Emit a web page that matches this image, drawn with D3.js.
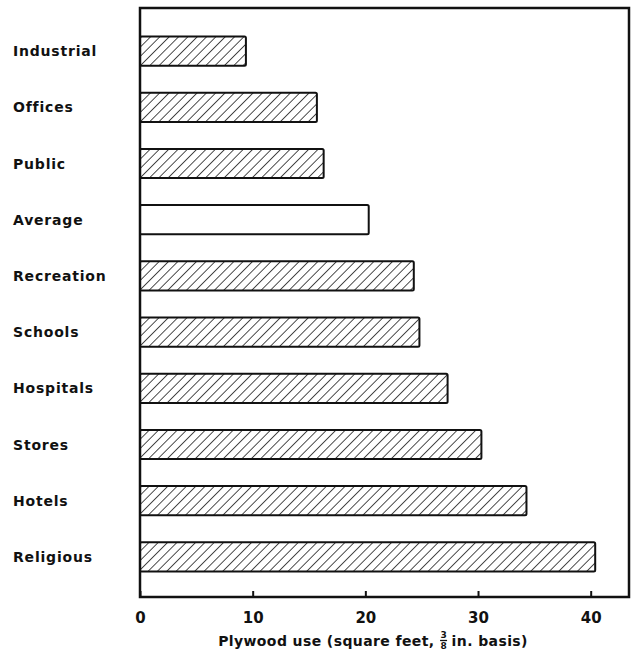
<!DOCTYPE html>
<html>
<head>
<meta charset="utf-8">
<script src="https://cdn.jsdelivr.net/npm/d3@7"></script>
<style>
  body { margin: 0; background: #fff; }
  text { font-family: "DejaVu Sans", sans-serif; font-weight: bold; fill: #111; white-space: pre; }
</style>
</head>
<body>
<svg width="633" height="659"></svg>
<script>
// data
var categories = ["Industrial", "Offices", "Public", "Average", "Recreation",
                  "Schools", "Hospitals", "Stores", "Hotels", "Religious"];
var plywoodUse = [9.4, 15.7, 16.3, 20.3, 24.3, 24.8, 27.3, 30.3, 34.3, 40.4];
var hatched = [true, true, true, false, true, true, true, true, true, true];
var xTicks = [0, 10, 20, 30, 40];

var svg = d3.select("svg");

var plotLeft = 140, plotRight = 629, plotTop = 8, plotBottom = 597;

var x = d3.scaleLinear()
    .domain([0, 43.4])
    .range([plotLeft, plotRight]);

var y = d3.scaleBand()
    .domain(categories)
    .range([23, 585])
    .paddingInner(0.48)
    .paddingOuter(0.24);

// hatch pattern
var defs = svg.append("defs");
var pat = defs.append("pattern")
    .attr("id", "hatch")
    .attr("patternUnits", "userSpaceOnUse")
    .attr("width", 6.6)
    .attr("height", 6.6)
    .attr("patternTransform", "rotate(45)");
pat.append("rect").attr("width", 6.6).attr("height", 6.6).attr("fill", "#fff");
pat.append("line")
    .attr("x1", 0).attr("y1", 0)
    .attr("x2", 0).attr("y2", 6.6)
    .attr("stroke", "#111")
    .attr("stroke-width", 1.5);

// bars
svg.selectAll("rect.bar")
    .data(categories)
    .enter()
    .append("rect")
    .attr("class", "bar")
    .attr("x", x(0))
    .attr("y", function(d) { return y(d); })
    .attr("width", function(d, i) { return x(plywoodUse[i]) - x(0); })
    .attr("height", y.bandwidth())
    .attr("rx", 1.5)
    .attr("fill", function(d, i) { return hatched[i] ? "url(#hatch)" : "#fff"; })
    .attr("stroke", "#111")
    .attr("stroke-width", 2);

// frame
svg.append("rect")
    .attr("x", plotLeft)
    .attr("y", plotTop)
    .attr("width", plotRight - plotLeft)
    .attr("height", plotBottom - plotTop)
    .attr("fill", "none")
    .attr("stroke", "#111")
    .attr("stroke-width", 2.5);

// category labels
svg.selectAll("text.cat")
    .data(categories)
    .enter()
    .append("text")
    .attr("class", "cat")
    .attr("x", 13)
    .attr("y", function(d) { return y(d) + y.bandwidth() / 2; })
    .attr("dy", "0.36em")
    .style("font-size", "14px")
    .style("letter-spacing", "0.8px")
    .text(function(d) { return d; });

// x axis, ticks pointing inward
var axis = d3.axisBottom(x)
    .tickValues(xTicks)
    .tickSizeInner(-6)
    .tickSizeOuter(0)
    .tickPadding(15);

var gx = svg.append("g")
    .attr("transform", "translate(0," + plotBottom + ")")
    .call(axis);
gx.select(".domain").remove();
gx.selectAll("line").attr("stroke", "#111").attr("stroke-width", 2);
gx.selectAll("text")
    .style("font-size", "15px")
    .style("font-family", "DejaVu Sans, sans-serif")
    .style("font-weight", "bold")
    .attr("fill", "#111");

// axis title with stacked fraction
var title = svg.append("g");
var t1 = title.append("text")
    .attr("y", 646)
    .style("font-size", "14px")
    .style("letter-spacing", "0.4px")
    .text("Plywood use (square feet,");
var w1 = t1.node().getComputedTextLength();
var fx = w1 + 9;
title.append("text")
    .attr("x", fx).attr("y", 638)
    .attr("text-anchor", "middle")
    .style("font-size", "9px")
    .text("3");
title.append("line")
    .attr("x1", fx - 3.5).attr("x2", fx + 3.5)
    .attr("y1", 640.5).attr("y2", 640.5)
    .attr("stroke", "#111").attr("stroke-width", 1.3);
title.append("text")
    .attr("x", fx).attr("y", 649)
    .attr("text-anchor", "middle")
    .style("font-size", "9px")
    .text("8");
var t2 = title.append("text")
    .attr("x", fx + 8)
    .attr("y", 646)
    .style("font-size", "14px")
    .style("letter-spacing", "0.4px")
    .text("in. basis)");
var totalW = fx + 8 + t2.node().getComputedTextLength();
title.attr("transform", "translate(" + (373 - totalW / 2) + ",0)");
</script>
</body>
</html>
